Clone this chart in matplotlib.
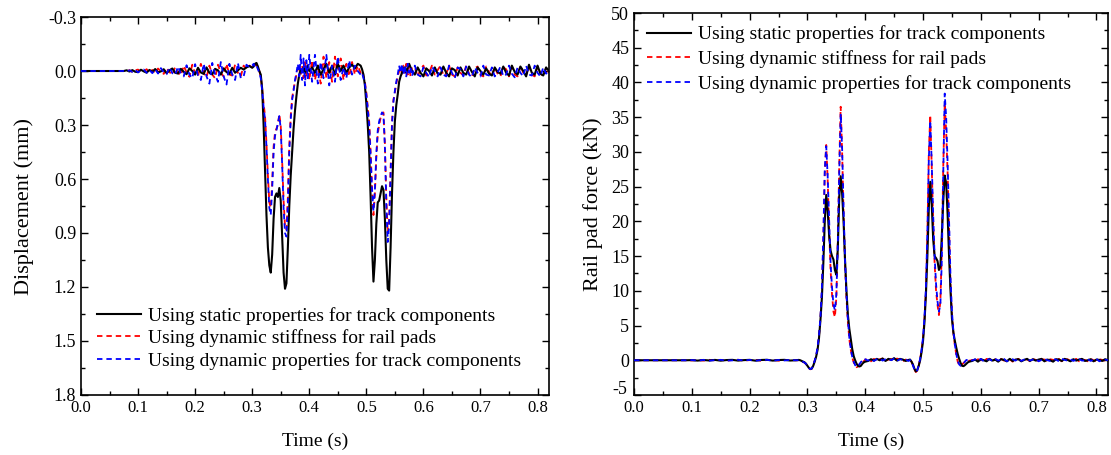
import numpy as np
import matplotlib
matplotlib.use("Agg")
import matplotlib.pyplot as plt
from matplotlib.ticker import MultipleLocator, FormatStrFormatter
from matplotlib.transforms import ScaledTranslation

plt.rcParams['font.family'] = ['Liberation Serif', 'DejaVu Serif']
plt.rcParams['axes.unicode_minus'] = False
plt.rcParams['mathtext.fontset'] = 'stix'

LABELS = ["Using static properties for track components",
          "Using dynamic stiffness for rail pads",
          "Using dynamic properties for track components"]
COLORS = ["black", "red", "blue"]

# ---------------- rail displacement (mm, positive downward) ----------------
# time grid: coarse where quiet, 2.5 ms steps through the two wheel passages
disp_time = np.concatenate([
    np.linspace(0.00, 0.07, 8),
    np.linspace(0.075, 0.300, 46),
    np.linspace(0.3025, 0.400, 40),
    np.linspace(0.405, 0.490, 18),
    np.linspace(0.4925, 0.580, 36),
    np.linspace(0.585, 0.820, 48),
])

disp_static = [
    0, 0, 0, 0, 0, 0, 0, 0,
    0.000, -0.004, 0.003, -0.005, 0.004, 0.006, -0.007, 0.002, 0.009, -0.006,
    0.005, -0.011, 0.008, 0.002, -0.010, 0.012, -0.004, -0.014, 0.010, 0.014,
    -0.012, 0.004, 0.018, -0.015, 0.000, 0.020, -0.018, 0.008, 0.016, -0.020,
    0.010, 0.018, -0.012, -0.004, 0.020, -0.015, 0.006, 0.016, -0.018, 0.010,
    -0.004, -0.018, -0.008, -0.020, -0.028, -0.018,
    -0.025, -0.040, -0.045, -0.025, 0.000, 0.020, 0.100, 0.300, 0.550, 0.800,
    0.980, 1.080, 1.120, 1.020, 0.820, 0.700, 0.680, 0.700, 0.650, 0.720,
    0.920, 1.120, 1.210, 1.180, 0.980, 0.750, 0.580, 0.450, 0.320, 0.220,
    0.140, 0.070, 0.020, -0.010, 0.005, -0.020, 0.010, -0.010, -0.030, 0.000,
    -0.020, 0.010, -0.030, 0.020, -0.010, -0.040, 0.010, -0.030, 0.020, -0.040,
    0.000, -0.030, 0.010, -0.020, -0.035, -0.015, -0.040, -0.030,
    -0.010, 0.020, 0.080, 0.180, 0.300, 0.450, 0.700, 0.980, 1.170, 1.050,
    0.850, 0.730, 0.720, 0.680, 0.640, 0.660, 0.820, 1.050, 1.210, 1.220,
    0.980, 0.680, 0.450, 0.280, 0.190, 0.130, 0.060, 0.030, 0.010, -0.010,
    -0.020, 0.010, -0.020, -0.040, -0.020, 0.000,
    0.020, -0.020, 0.010, 0.030, -0.015, 0.000, 0.025, -0.020, 0.015, 0.020,
    -0.025, 0.010, 0.030, -0.015, -0.005, 0.025, -0.020, 0.010, 0.020, -0.025,
    0.005, 0.030, -0.020, 0.000, 0.020, -0.015, 0.015, 0.025, -0.020, 0.005,
    0.015, -0.025, 0.010, 0.025, -0.030, 0.005, 0.020, -0.025, 0.000, 0.030,
    -0.035, 0.010, 0.020, -0.030, 0.015, 0.025, -0.020, 0.000,
]

disp_pads = [
    0, 0, 0, 0, 0, 0, 0, 0,
    0.000, 0.004, -0.005, 0.006, -0.004, -0.008, 0.006, 0.002, -0.010, 0.008,
    -0.006, 0.012, -0.014, 0.004, 0.016, -0.018, 0.006, 0.020, -0.022, 0.010,
    0.024, -0.030, 0.008, 0.032, -0.035, 0.015, 0.030, -0.040, 0.010, 0.035,
    -0.030, 0.020, 0.040, -0.035, 0.010, 0.030, -0.040, 0.020, 0.025, -0.035,
    0.010, 0.030, -0.030, -0.010, -0.030, -0.020,
    -0.030, -0.025, -0.040, -0.020, 0.000, 0.030, 0.100, 0.180, 0.250, 0.400,
    0.580, 0.730, 0.760, 0.620, 0.420, 0.340, 0.320, 0.300, 0.240, 0.300,
    0.500, 0.720, 0.860, 0.880, 0.700, 0.420, 0.250, 0.150, 0.100, 0.060,
    0.020, -0.010, -0.040, 0.020, -0.030, 0.040, -0.050, 0.030, -0.040, 0.050,
    -0.060, 0.050, -0.030, 0.070, -0.080, 0.040, -0.050, 0.060, -0.080, 0.030,
    -0.070, 0.050, -0.040, 0.030, -0.050, 0.020, -0.030, 0.010,
    0.000, 0.030, 0.060, 0.120, 0.200, 0.280, 0.450, 0.650, 0.800, 0.680,
    0.480, 0.350, 0.300, 0.260, 0.240, 0.230, 0.400, 0.700, 0.900, 0.820,
    0.550, 0.280, 0.160, 0.120, 0.070, 0.030, 0.000, -0.020, 0.020, -0.030,
    0.010, -0.040, 0.020, -0.030, 0.030, -0.020,
    -0.020, 0.030, -0.010, -0.030, 0.025, 0.010, -0.030, 0.020, -0.005, -0.030,
    0.025, 0.015, -0.030, 0.020, 0.030, -0.020, 0.010, 0.025, -0.030, 0.015,
    0.030, -0.015, -0.025, 0.020, 0.030, -0.025, 0.005, 0.030, -0.020, 0.015,
    0.030, -0.020, -0.010, 0.030, -0.025, 0.020, 0.030, -0.030, 0.010, 0.025,
    -0.030, 0.020, 0.030, -0.025, 0.010, 0.030, -0.015, 0.010,
]

disp_dynamic = [
    0, 0, 0, 0, 0, 0, 0, 0,
    0.000, 0.003, -0.004, 0.005, -0.006, 0.008, -0.004, -0.008, 0.010, -0.006,
    0.012, -0.010, 0.014, -0.016, 0.008, 0.018, -0.020, 0.012, 0.022, -0.025,
    0.015, 0.030, -0.032, 0.020, 0.040, -0.038, 0.025, 0.050, -0.040, 0.030,
    0.070, -0.045, 0.020, 0.060, -0.050, 0.030, 0.075, -0.040, 0.020, 0.050,
    -0.045, 0.040, 0.030, -0.035, -0.020, -0.030,
    -0.040, -0.020, -0.030, -0.010, 0.010, 0.040, 0.110, 0.200, 0.270, 0.420,
    0.600, 0.760, 0.800, 0.660, 0.450, 0.360, 0.330, 0.290, 0.250, 0.320,
    0.520, 0.760, 0.900, 0.920, 0.740, 0.450, 0.270, 0.160, 0.110, 0.050,
    0.010, -0.040, 0.030, -0.090, 0.050, -0.070, 0.080, -0.060, 0.040, -0.090,
    0.060, -0.090, 0.070, -0.050, 0.040, -0.090, 0.080, -0.030, 0.060, -0.080,
    0.050, -0.020, 0.040, -0.060, 0.020, -0.030, 0.000, 0.020,
    0.010, 0.040, 0.070, 0.130, 0.210, 0.300, 0.470, 0.660, 0.780, 0.660,
    0.460, 0.330, 0.280, 0.250, 0.230, 0.240, 0.420, 0.740, 0.950, 0.860,
    0.580, 0.300, 0.170, 0.110, 0.060, 0.020, -0.030, 0.010, -0.040, 0.020,
    -0.030, 0.030, -0.040, 0.010, -0.020, 0.030,
    -0.030, 0.020, 0.030, -0.020, 0.010, 0.035, -0.025, 0.000, 0.030, -0.020,
    0.020, 0.030, -0.030, 0.010, 0.040, -0.020, -0.010, 0.030, -0.025, 0.020,
    0.035, -0.020, 0.010, 0.030, -0.030, 0.020, 0.025, -0.020, 0.030, 0.010,
    -0.025, 0.030, 0.020, -0.030, 0.015, 0.035, -0.020, 0.010, 0.030, -0.030,
    0.020, 0.025, -0.030, 0.010, 0.030, -0.020, 0.015, 0.000,
]

# ---------------- rail pad force (kN) ----------------
force_time = np.concatenate([
    np.linspace(0.00, 0.28, 29),
    np.linspace(0.285, 0.400, 47),
    np.linspace(0.405, 0.475, 15),
    np.linspace(0.4775, 0.580, 42),
    np.linspace(0.585, 0.820, 48),
])

force_static = [
    0, 0, 0, 0, 0, 0, 0, 0, 0, 0,
    0.02, -0.05, 0.04, -0.03, 0.05, -0.06, 0.03, 0.06, -0.05, 0.02,
    0.06, -0.06, 0.04, 0.07, -0.05, 0.03, 0.06, -0.04, 0.00,
    0.05, 0.00, -0.10, -0.20, -0.30, -0.50, -0.80, -1.10, -1.25, -1.20,
    -0.80, -0.20, 0.50, 1.50, 3.20, 5.80, 9.00, 14.00, 20.00, 23.80,
    21.50, 18.00, 15.80, 15.00, 14.50, 13.00, 12.30, 16.00, 23.50, 26.50,
    24.00, 20.00, 14.50, 10.00, 6.50, 4.50, 3.00, 1.60, 0.60, 0.00,
    -0.50, -0.80, -0.90, -0.80, -0.50, -0.30, -0.20,
    -0.10, 0.15, -0.05, 0.20, 0.00, 0.25, -0.10, 0.20, 0.05, 0.30,
    -0.05, 0.20, 0.10, -0.10, 0.05,
    0.10, -0.20, -0.60, -1.20, -1.60, -1.40, -0.80, 0.00, 1.20, 2.80,
    5.50, 9.50, 15.00, 22.00, 25.70, 22.50, 17.50, 15.00, 14.70, 14.30,
    13.00, 13.50, 18.00, 23.00, 26.60, 25.50, 21.00, 15.00, 10.00, 6.00,
    4.00, 2.80, 1.80, 0.90, 0.20, -0.40, -0.80, -0.85, -0.70, -0.50,
    -0.30, -0.20,
    -0.10, 0.10, -0.20, 0.15, 0.00, -0.15, 0.20, -0.05, 0.10, -0.20,
    0.15, 0.05, -0.15, 0.20, -0.10, 0.10, 0.15, -0.15, 0.05, 0.20,
    -0.10, 0.15, -0.05, 0.10, 0.20, -0.15, 0.10, 0.00, -0.20, 0.15,
    0.10, -0.10, 0.20, 0.05, -0.15, 0.15, -0.05, 0.10, 0.20, -0.10,
    0.00, 0.15, -0.15, 0.10, 0.05, -0.10, 0.15, 0.00,
]

force_pads = [
    0, 0, 0, 0, 0, 0, 0, 0, 0, 0,
    -0.03, 0.04, -0.05, 0.06, -0.02, 0.05, -0.06, 0.03, 0.07, -0.05,
    0.02, 0.06, -0.07, 0.04, 0.05, -0.06, 0.03, 0.05, 0.00,
    0.00, -0.05, -0.15, -0.25, -0.35, -0.55, -0.85, -1.15, -1.30, -1.20,
    -0.75, -0.10, 0.60, 1.80, 3.50, 6.00, 10.00, 17.00, 27.00, 31.00,
    26.00, 19.00, 13.00, 9.50, 7.00, 6.20, 9.00, 17.00, 28.00, 36.50,
    30.00, 21.00, 14.00, 9.00, 5.50, 3.00, 1.50, 0.40, -0.30, -0.80,
    -1.00, -0.90, -0.60, -0.30, -0.10, -0.20, 0.10,
    0.10, -0.15, 0.20, -0.05, 0.15, 0.25, -0.10, 0.10, 0.20, -0.05,
    0.25, 0.05, -0.15, 0.10, -0.05,
    0.10, -0.20, -0.70, -1.30, -1.70, -1.50, -0.80, 0.20, 1.50, 3.20,
    6.00, 10.00, 18.00, 30.00, 35.30, 28.00, 20.00, 14.00, 10.00, 8.00,
    6.50, 8.50, 16.00, 28.00, 37.00, 33.00, 27.00, 19.00, 11.00, 6.50,
    4.00, 2.20, 0.80, -0.20, -0.70, -0.80, -0.60, -0.40, -0.20, -0.10,
    0.10, -0.10,
    0.05, -0.15, 0.15, 0.00, -0.20, 0.20, 0.05, -0.10, 0.15, -0.15,
    0.20, -0.05, 0.10, 0.15, -0.20, 0.10, 0.20, -0.10, 0.00, 0.15,
    -0.15, 0.20, 0.05, -0.10, 0.15, 0.10, -0.20, 0.15, 0.05, -0.05,
    0.20, -0.15, 0.10, 0.15, -0.10, 0.05, 0.20, -0.15, 0.10, 0.05,
    -0.15, 0.20, 0.00, -0.10, 0.15, 0.05, -0.10, 0.10,
]

force_dynamic = [
    0, 0, 0, 0, 0, 0, 0, 0, 0, 0,
    0.03, -0.04, 0.05, -0.06, 0.02, 0.06, -0.05, -0.02, 0.07, -0.04,
    0.05, -0.06, 0.03, 0.06, -0.05, 0.04, -0.03, 0.05, 0.00,
    0.00, -0.05, -0.12, -0.22, -0.33, -0.52, -0.82, -1.12, -1.28, -1.18,
    -0.70, -0.05, 0.70, 1.90, 3.60, 6.20, 10.50, 18.00, 27.50, 30.80,
    26.50, 20.00, 14.00, 10.50, 8.00, 7.20, 9.50, 16.50, 27.00, 35.50,
    30.50, 22.00, 14.50, 9.50, 5.80, 3.20, 1.60, 0.50, -0.20, -0.70,
    -0.95, -0.85, -0.55, -0.25, -0.05, -0.15, 0.15,
    -0.05, 0.20, -0.10, 0.15, 0.25, -0.05, 0.15, 0.20, 0.00, 0.25,
    -0.10, 0.15, 0.05, 0.10, -0.10,
    0.05, -0.25, -0.75, -1.30, -1.65, -1.45, -0.75, 0.25, 1.60, 3.30,
    6.20, 10.50, 18.50, 29.00, 34.50, 28.50, 21.00, 15.00, 11.00, 8.50,
    7.00, 8.00, 14.50, 27.00, 38.40, 35.00, 28.50, 20.00, 12.00, 7.00,
    4.20, 2.30, 0.90, -0.10, -0.60, -0.80, -0.70, -0.45, -0.20, 0.05,
    -0.05, 0.10,
    -0.05, 0.15, -0.10, 0.20, -0.15, 0.05, 0.15, -0.10, 0.20, -0.05,
    0.10, 0.20, -0.15, 0.05, 0.15, -0.05, 0.25, -0.10, 0.10, 0.15,
    -0.05, 0.10, 0.20, -0.15, 0.05, 0.20, 0.00, -0.10, 0.15, 0.10,
    -0.15, 0.20, 0.05, -0.05, 0.15, -0.10, 0.10, 0.20, -0.05, 0.00,
    0.15, -0.10, 0.10, 0.20, -0.15, 0.05, 0.10, 0.00,
]

for s in (disp_static, disp_pads, disp_dynamic):
    assert len(s) == len(disp_time)
for s in (force_static, force_pads, force_dynamic):
    assert len(s) == len(force_time)

fig = plt.figure(figsize=(11.11, 4.55), dpi=100)
ax1 = fig.add_axes([0.0729, 0.1319, 0.4212, 0.8307])
ax2 = fig.add_axes([0.5707, 0.1319, 0.4266, 0.8395])

XTICK_FS = 12
YTICK_FS = 13
LABEL_FS = 14
YLABEL_FS = 16
LEG_FS = 14


def draw(ax, t, series):
    for vals, col, lab in zip(series, COLORS, LABELS):
        if col == "black":
            ax.plot(t, vals, color=col, lw=1.5, label=lab, zorder=3)
        else:
            ax.plot(t, vals, color=col, lw=1.3, dashes=(3.0, 2.2), label=lab,
                    zorder=2 if col == "red" else 4)


def style(ax):
    ax.set_xlim(0, 0.82)
    ax.xaxis.set_major_locator(MultipleLocator(0.1))
    ax.xaxis.set_minor_locator(MultipleLocator(0.05))
    ax.xaxis.set_major_formatter(FormatStrFormatter('%.1f'))
    ax.tick_params(which='both', direction='in', top=True, right=True,
                   width=1.0)
    ax.tick_params(axis='x', labelsize=XTICK_FS)
    ax.tick_params(axis='y', labelsize=YTICK_FS)
    ax.tick_params(which='major', length=5)
    ax.tick_params(which='minor', length=3)
    for sp in ax.spines.values():
        sp.set_linewidth(1.2)
    ax.set_xlabel("Time (s)", fontsize=LABEL_FS, labelpad=12)


draw(ax1, disp_time, [disp_static, disp_pads, disp_dynamic])
style(ax1)
ax1.set_ylim(1.8, -0.3)
ax1.yaxis.set_major_locator(MultipleLocator(0.3))
ax1.yaxis.set_minor_locator(MultipleLocator(0.15))
ax1.yaxis.set_major_formatter(FormatStrFormatter('%.1f'))
ax1.set_ylabel("Displacement (mm)", fontsize=YLABEL_FS, labelpad=10)
ax1.legend(loc='lower left', bbox_to_anchor=(0.034, 0.066), frameon=False,
           fontsize=LEG_FS, handlelength=2.27, handletextpad=0.36,
           labelspacing=0.25, borderpad=0, borderaxespad=0)

draw(ax2, force_time, [force_static, force_pads, force_dynamic])
style(ax2)
ax2.set_ylim(-5, 50)
ax2.yaxis.set_major_locator(MultipleLocator(5))
ax2.yaxis.set_minor_locator(MultipleLocator(2.5))
ax2.yaxis.set_major_formatter(FormatStrFormatter('%d'))
ax2.set_ylabel("Rail pad force (kN)", fontsize=YLABEL_FS, labelpad=6)
ax2.legend(loc='upper left', bbox_to_anchor=(0.027, 0.967), frameon=False,
           fontsize=LEG_FS, handlelength=2.27, handletextpad=0.36,
           labelspacing=0.35, borderpad=0, borderaxespad=0)

# lift the lowest force tick label clear of the time-axis labels
fig.canvas.draw()
lift = ScaledTranslation(-0.02, 0.07, fig.dpi_scale_trans)
for tick in ax2.yaxis.get_major_ticks():
    if tick.label1.get_text() == '-5':
        tick.label1.set_transform(tick.label1.get_transform() + lift)

fig.savefig("out.png", dpi=100)
